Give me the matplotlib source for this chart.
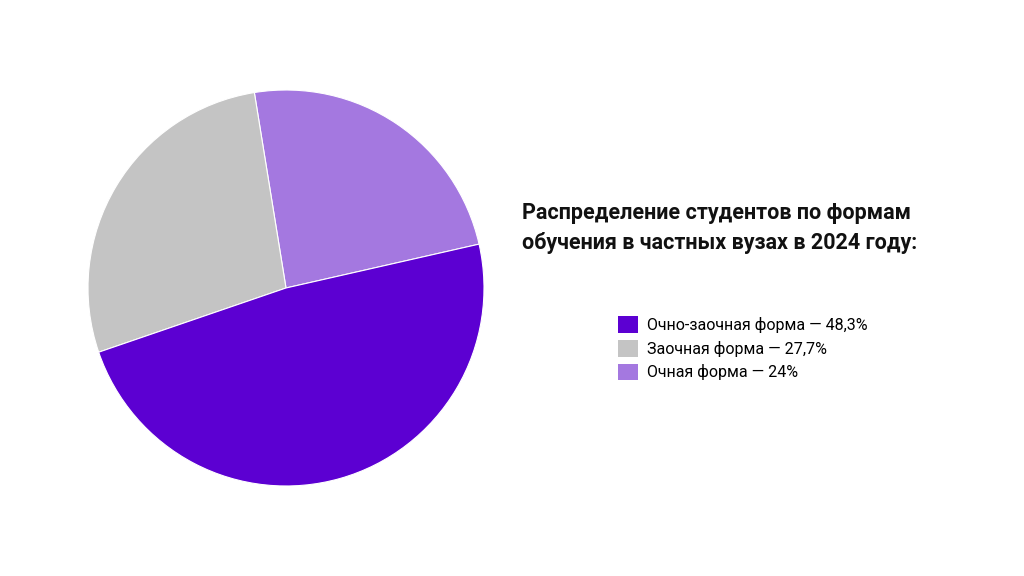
import matplotlib.pyplot as plt
from matplotlib.patches import Patch

labels = ["Очно-заочная форма — 48,3%", "Заочная форма — 27,7%", "Очная форма — 24%"]
values = [48.3, 27.7, 24.0]
colors = ["#5c00d2", "#c4c4c4", "#a478e0"]

plt.rcParams['font.family'] = ['Roboto', 'DejaVu Sans']
fig = plt.figure(figsize=(10.24, 5.76), dpi=100)
ax = fig.add_axes([88/1024, 90/576, 396/1024, 396/576])
# draw counterclockwise from the right edge: light, grey, dark
order = [2, 1, 0]
wedges, _ = ax.pie([values[i] for i in order], colors=[colors[i] for i in order],
                   startangle=12.8, counterclock=True,
                   wedgeprops=dict(edgecolor='white', linewidth=0.8))
ax.set_xlim(-1, 1)
ax.set_ylim(-1, 1)
ax.set_aspect('equal')

fig.text(522/1024, 1 - 228/576, "Распределение студентов по формам\nобучения в частных вузах в 2024 году:",
         fontsize=15.5, fontweight='bold', va='center', ha='left', linespacing=1.45, color='#111111')

handles = [Patch(facecolor=c) for c in colors]
fig.legend(handles, labels, loc='upper left', bbox_to_anchor=(612/1024, 1 - 310/576),
           frameon=False, fontsize=11.5, handlelength=1.2, handleheight=1.2,
           handletextpad=0.6, labelspacing=0.45, borderaxespad=0)

fig.savefig("out.png", dpi=100)
